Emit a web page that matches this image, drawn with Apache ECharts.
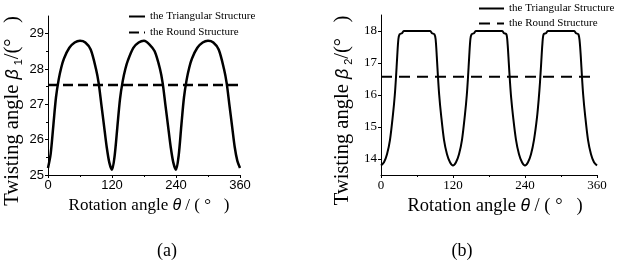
<!DOCTYPE html>
<html>
<head>
<meta charset="utf-8">
<script src="https://cdn.jsdelivr.net/npm/echarts@6/dist/echarts.min.js"></script>
<style>html,body{margin:0;padding:0;background:#fff;}#c{width:624px;height:264px;}</style>
</head>
<body>
<div id="c"></div>
<script>
// ---- data: chart (a) ----
const thetaA = [0,5,10,15,20,25,30,40,50,60,70,80,90,95,100,105,110,115,120,
  125,130,135,140,145,150,160,170,180,190,200,210,215,220,225,230,235,240,
  245,250,255,260,265,270,280,290,300,310,320,330,335,340,345,350,355,360];
const triA = [25.2,25.6,26.4,27.2,27.7,28.05,28.3,28.6,28.75,28.8,28.75,28.55,28.0,27.6,27.0,26.4,25.8,25.35,25.15,
  25.55,26.35,27.15,27.65,28.0,28.25,28.6,28.75,28.8,28.7,28.5,28.0,27.6,27.0,26.4,25.8,25.35,25.15,
  25.55,26.4,27.2,27.7,28.05,28.3,28.6,28.75,28.8,28.75,28.55,28.0,27.6,27.0,26.4,25.8,25.4,25.2];
const roundThetaA = [0,360];
const roundA = [27.55,27.55];
const xTicks = [0,120,240,360];
const yTicksA = [25,26,27,28,29];

// ---- data: chart (b) ----
const thetaB = [0,5,10,15,20,23,25,27,29,31,35,38,60,82,85,89,91,93,95,97,100,105,110,115,120,
  125,130,135,140,143,145,147,149,151,155,158,180,202,205,209,211,213,215,217,220,225,230,235,240,
  245,250,255,260,263,265,267,269,271,275,278,300,322,325,329,331,333,335,337,340,345,350,355,360];
const triB = [13.8,13.9,14.15,14.6,15.4,16.0,16.55,17.2,17.75,17.9,17.93,18.0,18.0,18.0,17.93,17.9,17.75,17.2,16.55,16.0,15.4,14.6,14.15,13.9,13.8,
  13.9,14.15,14.6,15.4,16.0,16.55,17.2,17.75,17.9,17.93,18.0,18.0,18.0,17.93,17.9,17.6,17.0,16.4,15.9,15.35,14.6,14.15,13.9,13.8,
  13.9,14.15,14.6,15.3,15.9,16.4,17.0,17.6,17.9,17.93,18.0,18.0,18.0,17.93,17.9,17.7,17.2,16.55,16.0,15.4,14.6,14.15,13.9,13.8];
const roundThetaB = [0,360];
const roundB = [16.57,16.57];
const yTicksB = [14,15,16,17,18];

const legendNames = {
  triA: 'the Triangular Structure', roundA: 'the Round Structure',
  triB: 'the Triangular Structure', roundB: 'the Round Structure'
};
const captions = ['(a)', '(b)'];

const zip = (xs, ys) => xs.map((x, i) => [x, ys[i]]);
const SERIF = '"Liberation Serif", "Times New Roman", serif';
const SANS = '"Liberation Sans", Arial, sans-serif';

function xAxisCfg(gridIndex, font, padLeft, fs) {
  return {
    type: 'value', gridIndex, min: 0, max: 360, interval: 120,
    name: '{t|Rotation angle }{g|θ}{t| / ( °   )}',
    nameLocation: 'middle', nameGap: 20,
    nameTextStyle: { padding: [0, 0, 0, padLeft], rich: {
      t: { fontFamily: SERIF, fontSize: fs, color: '#000' },
      g: { fontFamily: SANS, fontStyle: 'italic', fontSize: fs - 1, color: '#000' }
    }},
    axisLine: { lineStyle: { color: '#000', width: 1 } },
    axisTick: { show: true, inside: false, length: 3, lineStyle: { color: '#000' } },
    minorTick: { show: true, splitNumber: 2, length: 2, lineStyle: { color: '#000' } },
    axisLabel: { color: '#000', fontFamily: font, fontSize: 13, margin: 4 },
    splitLine: { show: false }
  };
}
function yAxisCfg(gridIndex, min, max, ticks, font, sub, gap) {
  return {
    type: 'value', gridIndex, min, max, interval: 1,
    name: '{t|Twisting angle }{g|β}{s|' + sub + '}{t|/(°   )}',
    nameLocation: 'middle', nameRotate: 90, nameGap: gap,
    nameTextStyle: { padding: [0, 31, 0, 0], rich: {
      t: { fontFamily: SERIF, fontSize: 20.5, color: '#000' },
      g: { fontFamily: SANS, fontStyle: 'italic', fontSize: 18, color: '#000' },
      s: { fontFamily: SANS, fontSize: 11, color: '#000', padding: [11, 0, 0, 4] }
    }},
    axisLine: { show: true, lineStyle: { color: '#000', width: 1 } },
    axisTick: { show: true, inside: false, length: 3, customValues: ticks, lineStyle: { color: '#000' } },
    minorTick: { show: true, splitNumber: 2, length: 2, lineStyle: { color: '#000' } },
    axisLabel: { color: '#000', fontFamily: font, fontSize: 13, margin: 4, customValues: ticks },
    splitLine: { show: false }
  };
}

const legendCommon = {
  orient: 'vertical', itemHeight: 11,
  formatter: n => legendNames[n],
  itemStyle: { opacity: 0 },
  textStyle: { fontFamily: SERIF, fontSize: 11, color: '#000' }
};

const chart = echarts.init(document.getElementById('c'), null, { renderer: 'canvas' });
chart.setOption({
  backgroundColor: '#fff',
  animation: false,
  title: [
    { text: captions[0], left: 162, top: 237, textAlign: 'center',
      textStyle: { fontFamily: SERIF, fontSize: 18, fontWeight: 'normal', color: '#000' } },
    { text: captions[1], left: 457, top: 237, textAlign: 'center',
      textStyle: { fontFamily: SERIF, fontSize: 18, fontWeight: 'normal', color: '#000' } }
  ],
  grid: [
    { left: 48, right: 384, top: 16, bottom: 89 },
    { left: 381, right: 27, top: 15, bottom: 89 }
  ],
  legend: [
    Object.assign({}, legendCommon, { data: ['triA', 'roundA'], left: 123, top: 6, itemWidth: 16, itemGap: 5 }),
    Object.assign({}, legendCommon, { data: ['triB', 'roundB'], left: 473, top: -2, itemWidth: 25, itemGap: 4 })
  ],
  xAxis: [ xAxisCfg(0, SANS, 10, 17), xAxisCfg(1, SERIF, 12, 18.5) ],
  yAxis: [ yAxisCfg(0, 25, 29.5, yTicksA, SANS, '1', 24), yAxisCfg(1, 13.5, 18.5, yTicksB, SERIF, '2', 27) ],
  series: [
    { name: 'triA', type: 'line', xAxisIndex: 0, yAxisIndex: 0, data: zip(thetaA, triA), symbol: 'none', smooth: 0.3,
      lineStyle: { color: '#000', width: 2.5 }, itemStyle: { color: '#000' } },
    { name: 'roundA', type: 'line', xAxisIndex: 0, yAxisIndex: 0, data: zip(roundThetaA, roundA), symbol: 'none',
      lineStyle: { color: '#000', width: 2.5, type: [10, 5] }, itemStyle: { color: '#000' } },
    { name: 'triB', type: 'line', xAxisIndex: 1, yAxisIndex: 1, data: zip(thetaB, triB), symbol: 'none', smooth: 0.3,
      lineStyle: { color: '#000', width: 2 }, itemStyle: { color: '#000' } },
    { name: 'roundB', type: 'line', xAxisIndex: 1, yAxisIndex: 1, data: zip(roundThetaB, roundB), symbol: 'none',
      lineStyle: { color: '#000', width: 2, type: [11, 7] }, itemStyle: { color: '#000' } }
  ]
});
</script>
</body>
</html>
